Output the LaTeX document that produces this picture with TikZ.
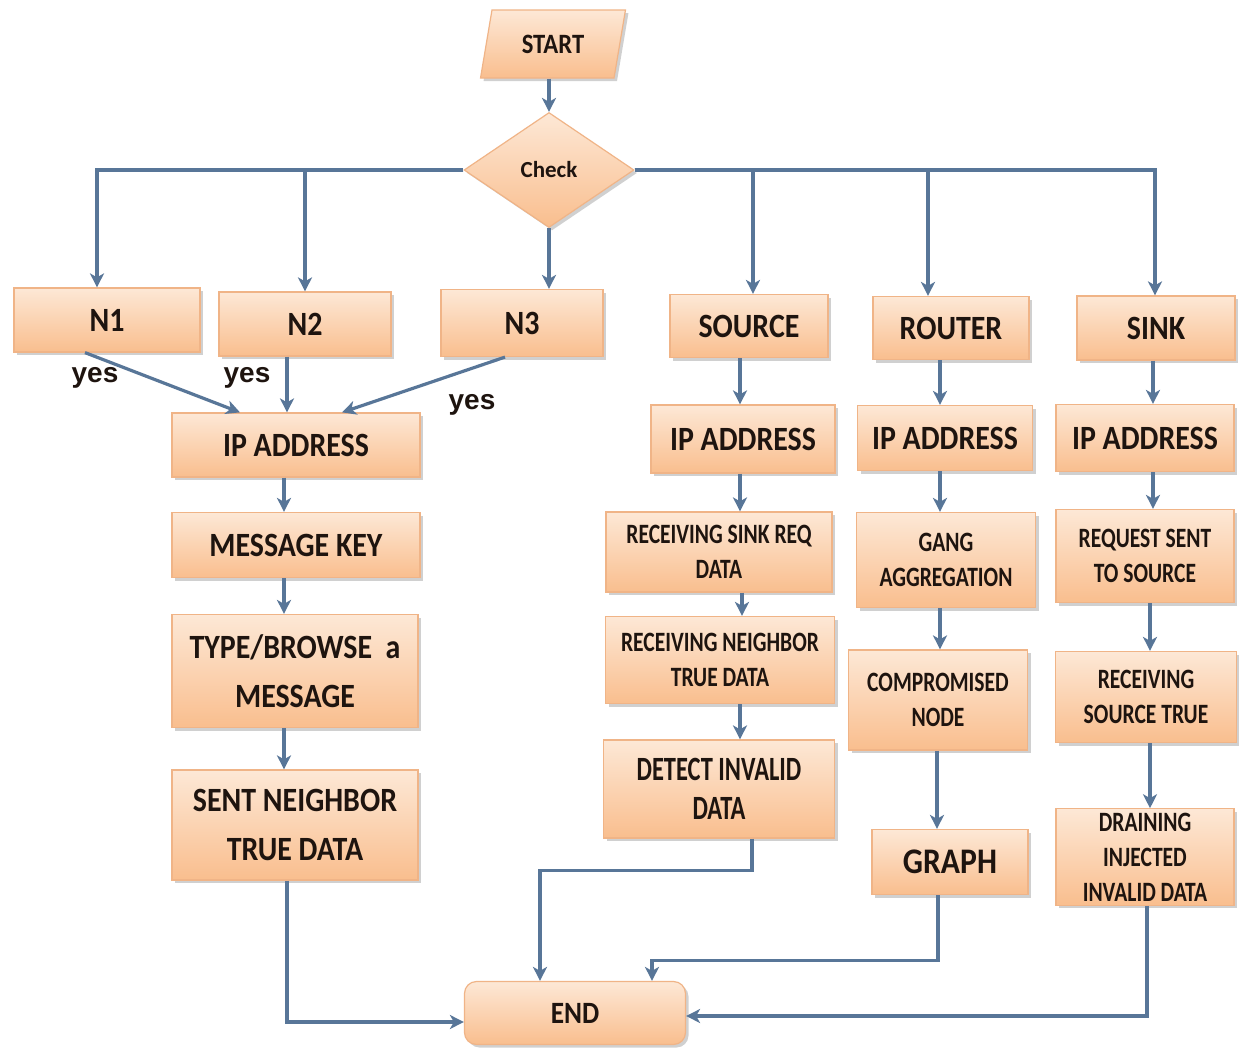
\documentclass[tikz,border=0pt]{standalone}
\usepackage{fontspec}
\setmainfont{Carlito}
\newfontfamily\fA[FakeStretch=0.88]{Carlito}
\newfontfamily\fB[FakeStretch=0.77]{Carlito}
\newfontfamily\fC[FakeStretch=0.72]{Carlito}
\newfontfamily\fY{Liberation Sans}
\usetikzlibrary{shapes.geometric,arrows.meta,shadows}
\definecolor{boxTop}{RGB}{253,232,214}
\definecolor{boxBot}{RGB}{249,190,142}
\definecolor{boxLine}{RGB}{240,180,135}
\definecolor{lineC}{RGB}{88,118,152}
\definecolor{txtC}{RGB}{30,20,15}
\tikzset{
  box/.style={draw=boxLine, line width=0.6pt, top color=boxTop, bottom color=boxBot,
    drop shadow={shadow xshift=1.5pt, shadow yshift=-1.5pt, opacity=0.3, fill=black!60},
    align=center, inner sep=2pt, text=txtC},
  big/.style={font=\fA\bfseries\fontsize{17}{24.5}\selectfont},
  small/.style={font=\fB\bfseries\fontsize{14}{17.5}\selectfont},
  mid/.style={font=\fC\bfseries\fontsize{17}{19.5}\selectfont},
  yes/.style={font=\fY\bfseries\fontsize{14}{16}\selectfont, text=txtC},
  conn/.style={draw=lineC, line width=1.6pt},
  arr/.style={conn, -{Stealth[length=7pt,width=7pt,inset=2pt]}},
}
\begin{document}
\begin{tikzpicture}[x=0.5pt,y=-0.5pt]
\useasboundingbox[fill=white] (0,0) rectangle (1239,1050);

% top
\node[box, trapezium, trapezium left angle=76, trapezium right angle=104, trapezium stretches=true,
  minimum width=72.5pt, minimum height=34pt, font=\fA\bfseries\fontsize{14}{16}\selectfont] (start) at (553,44) {START};
\node[box, diamond, minimum width=85pt, minimum height=57.5pt, inner sep=0pt,
  font=\bfseries\fontsize{11.5}{13}\selectfont] (chk) at (549,170) {Check};

% first row
\node[box, big, minimum width=93pt, minimum height=32pt] (n1) at (107,320) {N1};
\node[box, big, minimum width=86pt, minimum height=32pt] (n2) at (305,324) {N2};
\node[box, big, minimum width=81pt, minimum height=33.5pt] (n3) at (522,323) {N3};
\node[box, big, minimum width=79pt, minimum height=31.5pt] (src) at (749,326) {SOURCE};
\node[box, big, minimum width=78pt, minimum height=31.5pt] (rtr) at (951,328) {ROUTER};
\node[box, big, minimum width=79pt, minimum height=32pt] (snk) at (1156,328) {SINK};

% left column
\node[box, big, minimum width=124pt, minimum height=32pt] (ip1) at (296,445) {IP ADDRESS};
\node[box, big, minimum width=124pt, minimum height=32.5pt] (mk) at (296,545) {MESSAGE KEY};
\node[box, big, minimum width=123pt, minimum height=56.5pt] (tb) at (295,671) {TYPE/BROWSE\ \ a\\MESSAGE};
\node[box, big, minimum width=123pt, minimum height=55pt] (sn) at (295,825) {SENT NEIGHBOR\\TRUE DATA};

% source column
\node[box, big, minimum width=92pt, minimum height=34pt] (ip2) at (743,439) {IP ADDRESS};
\node[box, small, minimum width=113pt, minimum height=40pt] (rsr) at (719,552) {RECEIVING SINK REQ\\DATA};
\node[box, small, minimum width=114.5pt, minimum height=43.5pt] (rnt) at (720,660) {RECEIVING NEIGHBOR\\TRUE DATA};
\node[box, mid, minimum width=115.5pt, minimum height=49pt] (div) at (719,789) {DETECT INVALID\\DATA};

% router column
\node[box, big, minimum width=87.5pt, minimum height=32.5pt] (ip3) at (945,438) {IP ADDRESS};
\node[box, small, minimum width=89.5pt, minimum height=47.5pt] (gang) at (946,560) {GANG\\AGGREGATION};
\node[box, small, minimum width=89.5pt, minimum height=50pt] (comp) at (938,700) {COMPROMISED\\NODE};
\node[box, font=\fA\bfseries\fontsize{18}{20}\selectfont, minimum width=78pt, minimum height=32.5pt] (graph) at (950,862) {GRAPH};

% sink column
\node[box, big, minimum width=89pt, minimum height=33.5pt] (ip4) at (1145,438) {IP ADDRESS};
\node[box, small, minimum width=89pt, minimum height=46.5pt] (req) at (1145,556) {REQUEST SENT\\TO SOURCE};
\node[box, small, minimum width=90.5pt, minimum height=45.5pt] (rst) at (1146,697) {RECEIVING\\SOURCE TRUE};
\node[box, small, minimum width=89pt, minimum height=47.5pt] (drain) at (1145,857) {DRAINING\\INJECTED\\INVALID DATA};

% end
\node[box, rounded corners=6pt, font=\fA\bfseries\fontsize{15.5}{18}\selectfont,
  minimum width=110.5pt, minimum height=31.5pt] (end) at (575,1013) {END};

% yes labels
\node[yes] (y1) at (95,378) {yes};
\node[yes] (y2) at (247,378) {yes};
\node[yes] (y3) at (472,405) {yes};

% connectors
\draw[arr] (chk.north |- start.south) -- (chk.north);
\draw[arr] (chk.west) -| ([xshift=-5pt]n1.north);
\draw[arr] (chk.west) -| (n2.north);
\draw[arr] (chk.south) -- (chk.south |- n3.north);
\draw[arr] (chk.east) -| ([xshift=2pt]src.north);
\draw[arr] (chk.east) -| ([xshift=-11.5pt]rtr.north);
\draw[arr] (chk.east) -| ([xshift=-0.5pt]snk.north);

\draw[arr] ([xshift=-11pt]n1.south) -- ([xshift=-28pt]ip1.north);
\draw[arr] ([xshift=-9pt]n2.south) -- ([xshift=-9pt]n2.south |- ip1.north);
\draw[arr] ([xshift=-8.5pt]n3.south) -- ([xshift=23pt]ip1.north);

\draw[arr] ([xshift=-6pt]ip1.south) -- ([xshift=-6pt]ip1.south |- mk.north);
\draw[arr] ([xshift=-6pt]mk.south) -- ([xshift=-6pt]mk.south |- tb.north);
\draw[arr] ([xshift=-5.5pt]tb.south) -- ([xshift=-5.5pt]tb.south |- sn.north);
\draw[arr] ([xshift=-4pt]sn.south) |- ([yshift=-4.5pt]end.west);

\draw[arr] ([xshift=-4.5pt]src.south) -- ([xshift=-4.5pt]src.south |- ip2.north);
\draw[arr] ([xshift=-1.5pt]ip2.south) -- ([xshift=-1.5pt]ip2.south |- rsr.north);
\draw[arr] ([xshift=11.5pt]rsr.south) -- ([xshift=11.5pt]rsr.south |- rnt.north);
\draw[arr] ([xshift=10pt]rnt.south) -- ([xshift=10pt]rnt.south |- div.north);
\draw[arr] ([xshift=16.5pt]div.south) -- ++(0,-16pt) -| ([xshift=-17.5pt]end.north);

\draw[arr] ([xshift=-5.5pt]rtr.south) -- ([xshift=-5.5pt]rtr.south |- ip3.north);
\draw[arr] ([xshift=-2.5pt]ip3.south) -- ([xshift=-2.5pt]ip3.south |- gang.north);
\draw[arr] ([xshift=-3pt]gang.south) -- ([xshift=-3pt]gang.south |- comp.north);
\draw[arr] ([xshift=-0.5pt]comp.south) -- ([xshift=-0.5pt]comp.south |- graph.north);
\draw[arr] ([xshift=-6pt]graph.south) -- ++(0,-32.5pt) -| ([xshift=38.5pt]end.north);

\draw[arr] ([xshift=-1.5pt]snk.south) -- ([xshift=-1.5pt]snk.south |- ip4.north);
\draw[arr] ([xshift=4pt]ip4.south) -- ([xshift=4pt]ip4.south |- req.north);
\draw[arr] ([xshift=2.5pt]req.south) -- ([xshift=2.5pt]req.south |- rst.north);
\draw[arr] ([xshift=2pt]rst.south) -- ([xshift=2pt]rst.south |- drain.north);
\draw[arr] ([xshift=1pt]drain.south) |- ([yshift=-1.5pt]end.east);
\end{tikzpicture}
\end{document}
